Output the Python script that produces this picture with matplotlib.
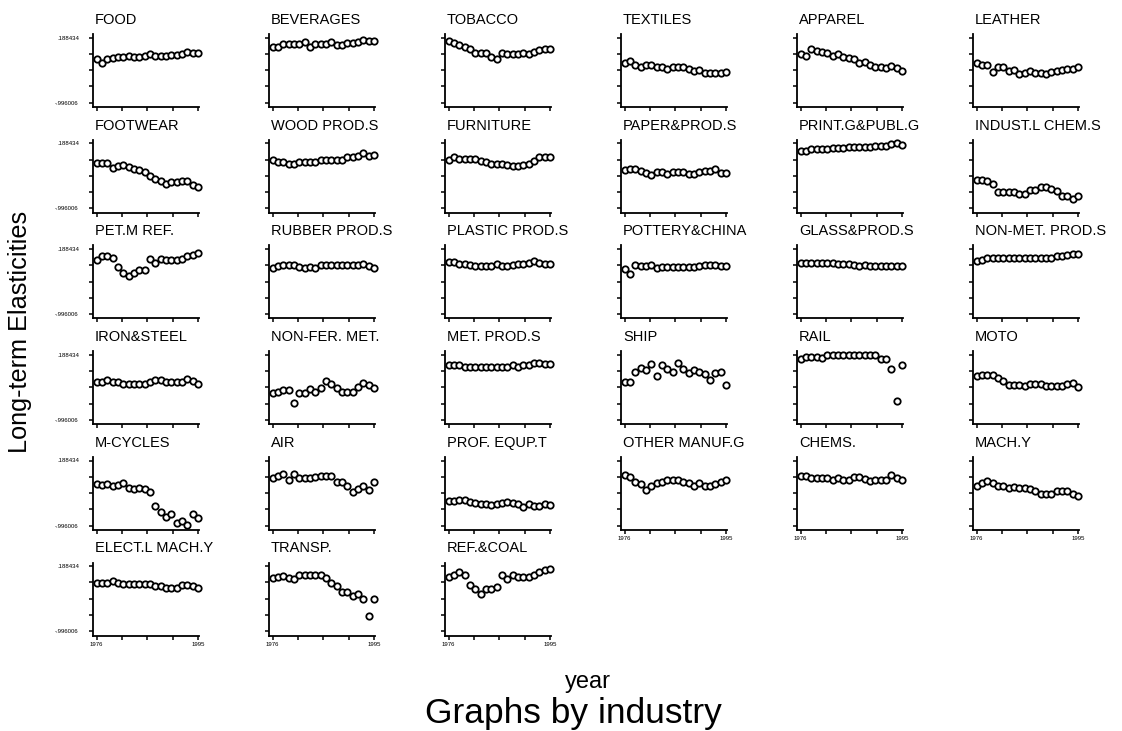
import matplotlib
matplotlib.use("Agg")
import matplotlib.pyplot as plt
import numpy as np

plt.rcParams['font.family'] = ['Liberation Sans', 'DejaVu Sans']

years = list(range(1976, 1996))
y_top_label = 0.188434
y_bot_label = -0.996006

FOOD = [-0.194,-0.279,-0.194,-0.188,-0.170,-0.170,-0.146,-0.170,-0.170,-0.146,-0.115,-0.146,-0.146,-0.146,-0.127,-0.127,-0.109,-0.079,-0.097,-0.097]
BEVERAGES = [0.012,0.024,0.067,0.067,0.067,0.067,0.103,0.012,0.067,0.067,0.067,0.103,0.055,0.055,0.097,0.097,0.103,0.146,0.134,0.134]
TOBACCO = [0.134,0.097,0.061,0.024,-0.024,-0.097,-0.097,-0.097,-0.170,-0.206,-0.085,-0.109,-0.109,-0.109,-0.085,-0.109,-0.073,-0.036,-0.012,-0.012]
TEXTILES = [-0.267,-0.231,-0.310,-0.352,-0.316,-0.316,-0.352,-0.352,-0.389,-0.352,-0.352,-0.352,-0.389,-0.425,-0.401,-0.449,-0.449,-0.449,-0.449,-0.431]
APPAREL = [-0.109,-0.140,-0.012,-0.048,-0.073,-0.097,-0.140,-0.109,-0.158,-0.188,-0.200,-0.267,-0.249,-0.310,-0.340,-0.352,-0.371,-0.328,-0.371,-0.419]
LEATHER = [-0.279,-0.316,-0.316,-0.431,-0.340,-0.340,-0.419,-0.401,-0.474,-0.462,-0.419,-0.462,-0.449,-0.474,-0.437,-0.419,-0.401,-0.383,-0.383,-0.340]
FOOTWEAR = [-0.172,-0.172,-0.172,-0.257,-0.227,-0.209,-0.245,-0.275,-0.305,-0.335,-0.407,-0.467,-0.491,-0.545,-0.521,-0.521,-0.503,-0.491,-0.563,-0.611]
WOOD = [-0.106,-0.142,-0.142,-0.184,-0.184,-0.148,-0.142,-0.142,-0.142,-0.106,-0.106,-0.106,-0.106,-0.106,-0.064,-0.064,-0.034,0.008,-0.040,-0.016]
FURNITURE = [-0.113,-0.064,-0.100,-0.100,-0.100,-0.100,-0.136,-0.154,-0.184,-0.184,-0.184,-0.209,-0.227,-0.227,-0.209,-0.184,-0.136,-0.064,-0.064,-0.064]
PAPER = [-0.293,-0.275,-0.281,-0.317,-0.353,-0.383,-0.341,-0.341,-0.377,-0.341,-0.341,-0.341,-0.377,-0.377,-0.341,-0.317,-0.317,-0.275,-0.353,-0.353]
PRINT = [0.056,0.056,0.080,0.080,0.080,0.080,0.098,0.098,0.098,0.116,0.116,0.116,0.116,0.116,0.146,0.146,0.146,0.185,0.188,0.164]
INDUST = [-0.473,-0.473,-0.503,-0.545,-0.696,-0.696,-0.696,-0.696,-0.726,-0.726,-0.654,-0.654,-0.606,-0.606,-0.636,-0.678,-0.774,-0.774,-0.816,-0.774]
PET = [-0.019,0.058,0.070,0.028,-0.137,-0.238,-0.309,-0.238,-0.197,-0.197,0.016,-0.060,0.016,-0.013,-0.019,-0.019,0.016,0.058,0.088,0.123]
RUBBER = [-0.149,-0.120,-0.108,-0.108,-0.108,-0.131,-0.149,-0.131,-0.161,-0.108,-0.108,-0.108,-0.108,-0.108,-0.108,-0.102,-0.102,-0.078,-0.120,-0.161]
PLASTIC = [-0.043,-0.043,-0.078,-0.078,-0.102,-0.120,-0.120,-0.120,-0.120,-0.078,-0.120,-0.120,-0.102,-0.078,-0.078,-0.060,-0.031,-0.060,-0.078,-0.078]
POTTERY = [-0.179,-0.268,-0.102,-0.120,-0.120,-0.102,-0.149,-0.131,-0.137,-0.137,-0.137,-0.137,-0.137,-0.137,-0.120,-0.102,-0.102,-0.102,-0.120,-0.120]
GLASS = [-0.060,-0.060,-0.060,-0.060,-0.060,-0.060,-0.060,-0.090,-0.090,-0.090,-0.108,-0.120,-0.102,-0.120,-0.120,-0.120,-0.120,-0.120,-0.120,-0.120]
NONMET = [-0.031,-0.019,0.028,0.028,0.028,0.028,0.028,0.028,0.028,0.028,0.028,0.028,0.028,0.028,0.028,0.058,0.058,0.088,0.100,0.100]
IRON = [-0.305,-0.305,-0.263,-0.299,-0.311,-0.335,-0.335,-0.335,-0.335,-0.335,-0.299,-0.263,-0.263,-0.299,-0.299,-0.299,-0.299,-0.257,-0.293,-0.335]
NONFER = [-0.515,-0.485,-0.455,-0.455,-0.696,-0.515,-0.515,-0.437,-0.485,-0.425,-0.287,-0.335,-0.425,-0.485,-0.485,-0.485,-0.395,-0.323,-0.365,-0.425]
METPROD = [-0.004,-0.004,-0.004,-0.034,-0.034,-0.034,-0.034,-0.034,-0.034,-0.034,-0.034,-0.034,-0.004,-0.034,-0.004,-0.004,0.038,0.038,0.026,0.026]
SHIP = [-0.305,-0.305,-0.125,-0.046,-0.082,0.026,-0.197,-0.004,-0.064,-0.125,0.038,-0.064,-0.137,-0.082,-0.125,-0.167,-0.263,-0.149,-0.125,-0.365]
RAIL = [0.116,0.146,0.146,0.146,0.128,0.176,0.176,0.176,0.176,0.188,0.188,0.176,0.176,0.176,0.176,0.116,0.116,-0.077,-0.660,-0.004]
MOTO = [-0.197,-0.185,-0.185,-0.185,-0.233,-0.287,-0.365,-0.365,-0.365,-0.383,-0.347,-0.347,-0.347,-0.383,-0.383,-0.383,-0.383,-0.347,-0.317,-0.395]
MCYCLES = [-0.242,-0.254,-0.242,-0.278,-0.266,-0.229,-0.321,-0.333,-0.315,-0.340,-0.389,-0.640,-0.751,-0.837,-0.794,-0.953,-0.916,-0.996,-0.794,-0.855]
AIR = [-0.131,-0.088,-0.057,-0.168,-0.057,-0.131,-0.131,-0.131,-0.119,-0.088,-0.088,-0.088,-0.205,-0.205,-0.272,-0.382,-0.340,-0.272,-0.346,-0.211]
PROF = [-0.548,-0.548,-0.536,-0.536,-0.560,-0.591,-0.610,-0.610,-0.622,-0.610,-0.591,-0.567,-0.579,-0.610,-0.653,-0.610,-0.640,-0.640,-0.597,-0.622]
OTHER = [-0.076,-0.119,-0.199,-0.242,-0.352,-0.272,-0.229,-0.199,-0.168,-0.168,-0.168,-0.199,-0.229,-0.272,-0.229,-0.272,-0.272,-0.242,-0.199,-0.168]
CHEMS = [-0.088,-0.088,-0.131,-0.131,-0.131,-0.131,-0.168,-0.131,-0.168,-0.168,-0.119,-0.119,-0.150,-0.193,-0.168,-0.168,-0.168,-0.076,-0.131,-0.168]
MACH = [-0.272,-0.229,-0.193,-0.229,-0.272,-0.272,-0.315,-0.291,-0.315,-0.315,-0.333,-0.364,-0.413,-0.413,-0.413,-0.364,-0.364,-0.364,-0.413,-0.456]
ELECT = [-0.111,-0.111,-0.111,-0.087,-0.111,-0.129,-0.129,-0.129,-0.129,-0.129,-0.129,-0.172,-0.172,-0.203,-0.203,-0.203,-0.160,-0.160,-0.172,-0.203]
TRANSP = [-0.020,-0.008,0.017,-0.020,-0.038,0.023,0.023,0.023,0.023,0.023,-0.020,-0.117,-0.178,-0.282,-0.282,-0.355,-0.313,-0.404,-0.722,-0.404]
REFCOAL = [-0.011,0.032,0.076,0.032,-0.155,-0.236,-0.311,-0.236,-0.236,-0.198,0.032,-0.049,0.032,-0.011,-0.011,-0.011,0.032,0.076,0.113,0.138]

industries = ["FOOD", "BEVERAGES", "TOBACCO", "TEXTILES", "APPAREL", "LEATHER",
              "FOOTWEAR", "WOOD PROD.S", "FURNITURE", "PAPER&PROD.S", "PRINT.G&PUBL.G", "INDUST.L CHEM.S",
              "PET.M REF.", "RUBBER PROD.S", "PLASTIC PROD.S", "POTTERY&CHINA", "GLASS&PROD.S", "NON-MET. PROD.S",
              "IRON&STEEL", "NON-FER. MET.", "MET. PROD.S", "SHIP", "RAIL", "MOTO",
              "M-CYCLES", "AIR", "PROF. EQUP.T", "OTHER MANUF.G", "CHEMS.", "MACH.Y",
              "ELECT.L MACH.Y", "TRANSP.", "REF.&COAL"]
series = [FOOD, BEVERAGES, TOBACCO, TEXTILES, APPAREL, LEATHER,
          FOOTWEAR, WOOD, FURNITURE, PAPER, PRINT, INDUST,
          PET, RUBBER, PLASTIC, POTTERY, GLASS, NONMET,
          IRON, NONFER, METPROD, SHIP, RAIL, MOTO,
          MCYCLES, AIR, PROF, OTHER, CHEMS, MACH,
          ELECT, TRANSP, REFCOAL]

W, H = 1122, 731
fig = plt.figure(figsize=(W / 100, H / 100), dpi=100)

ncols = 6
# pixel layout
col_left0, col_step = 93.0, 176.0
row_top0, row_step = 37.7, 105.7
ax_w_px = 106.0
tick_span_px = 65.0      # top tick to bottom tick
pad_top_px = 3.7
pad_bot_px = 4.3
px_per_unit = tick_span_px / (y_top_label - y_bot_label)
ylim = (y_bot_label - pad_bot_px / px_per_unit, y_top_label + pad_top_px / px_per_unit)
x_first_px = 3.7
px_per_year = 101.3 / 19
xlim = (1976 - x_first_px / px_per_year, 1976 + (ax_w_px - x_first_px) / px_per_year)
yticks = np.linspace(y_bot_label, y_top_label, 5)
xticks = np.linspace(1976, 1995, 5)

n = len(industries)
for i, (name, vals) in enumerate(zip(industries, series)):
    r, c = divmod(i, ncols)
    left_px = col_left0 + col_step * c
    top_px = row_top0 + row_step * r - pad_top_px
    h_px = pad_top_px + tick_span_px + pad_bot_px
    ax = fig.add_axes([left_px / W, 1 - (top_px + h_px) / H, ax_w_px / W, h_px / H])
    ax.plot(years, vals, linestyle='none', marker='o', markersize=4.6,
            markerfacecolor='white', markeredgecolor='black', markeredgewidth=1.3,
            clip_on=False)
    ax.set_xlim(*xlim)
    ax.set_ylim(*ylim)
    for s in ['top', 'right']:
        ax.spines[s].set_visible(False)
    for s in ['left', 'bottom']:
        ax.spines[s].set_linewidth(1.3)
    ax.set_yticks(yticks)
    ax.set_xticks(xticks)
    ax.tick_params(axis='both', direction='out', length=3.2, width=1.1, labelsize=4.3, pad=1.5)
    ax.tick_params(axis='y', pad=7)
    if c == 0:
        ax.set_yticklabels(['-.996006', '', '', '', '.188434'])
    else:
        ax.set_yticklabels([])
    below_empty = (i + ncols) >= n
    if below_empty:
        ax.set_xticklabels(['1976', '', '', '', '1995'])
    else:
        ax.set_xticklabels([])
    ax.text(0.02, 1 + 10.0 / h_px, name, transform=ax.transAxes, ha='left', va='baseline',
            fontsize=10.5)

fig.text(20 / W, 1 - 332 / H, 'Long-term Elasticities', rotation=90, ha='center', va='center',
         fontsize=18.2)
fig.text(588 / W, 1 - 688 / H, 'year', ha='center', va='baseline', fontsize=17)
fig.text(573 / W, 1 - 723 / H, 'Graphs by industry', ha='center', va='baseline', fontsize=25.5)

fig.savefig('out.png', dpi=100, facecolor='white')
